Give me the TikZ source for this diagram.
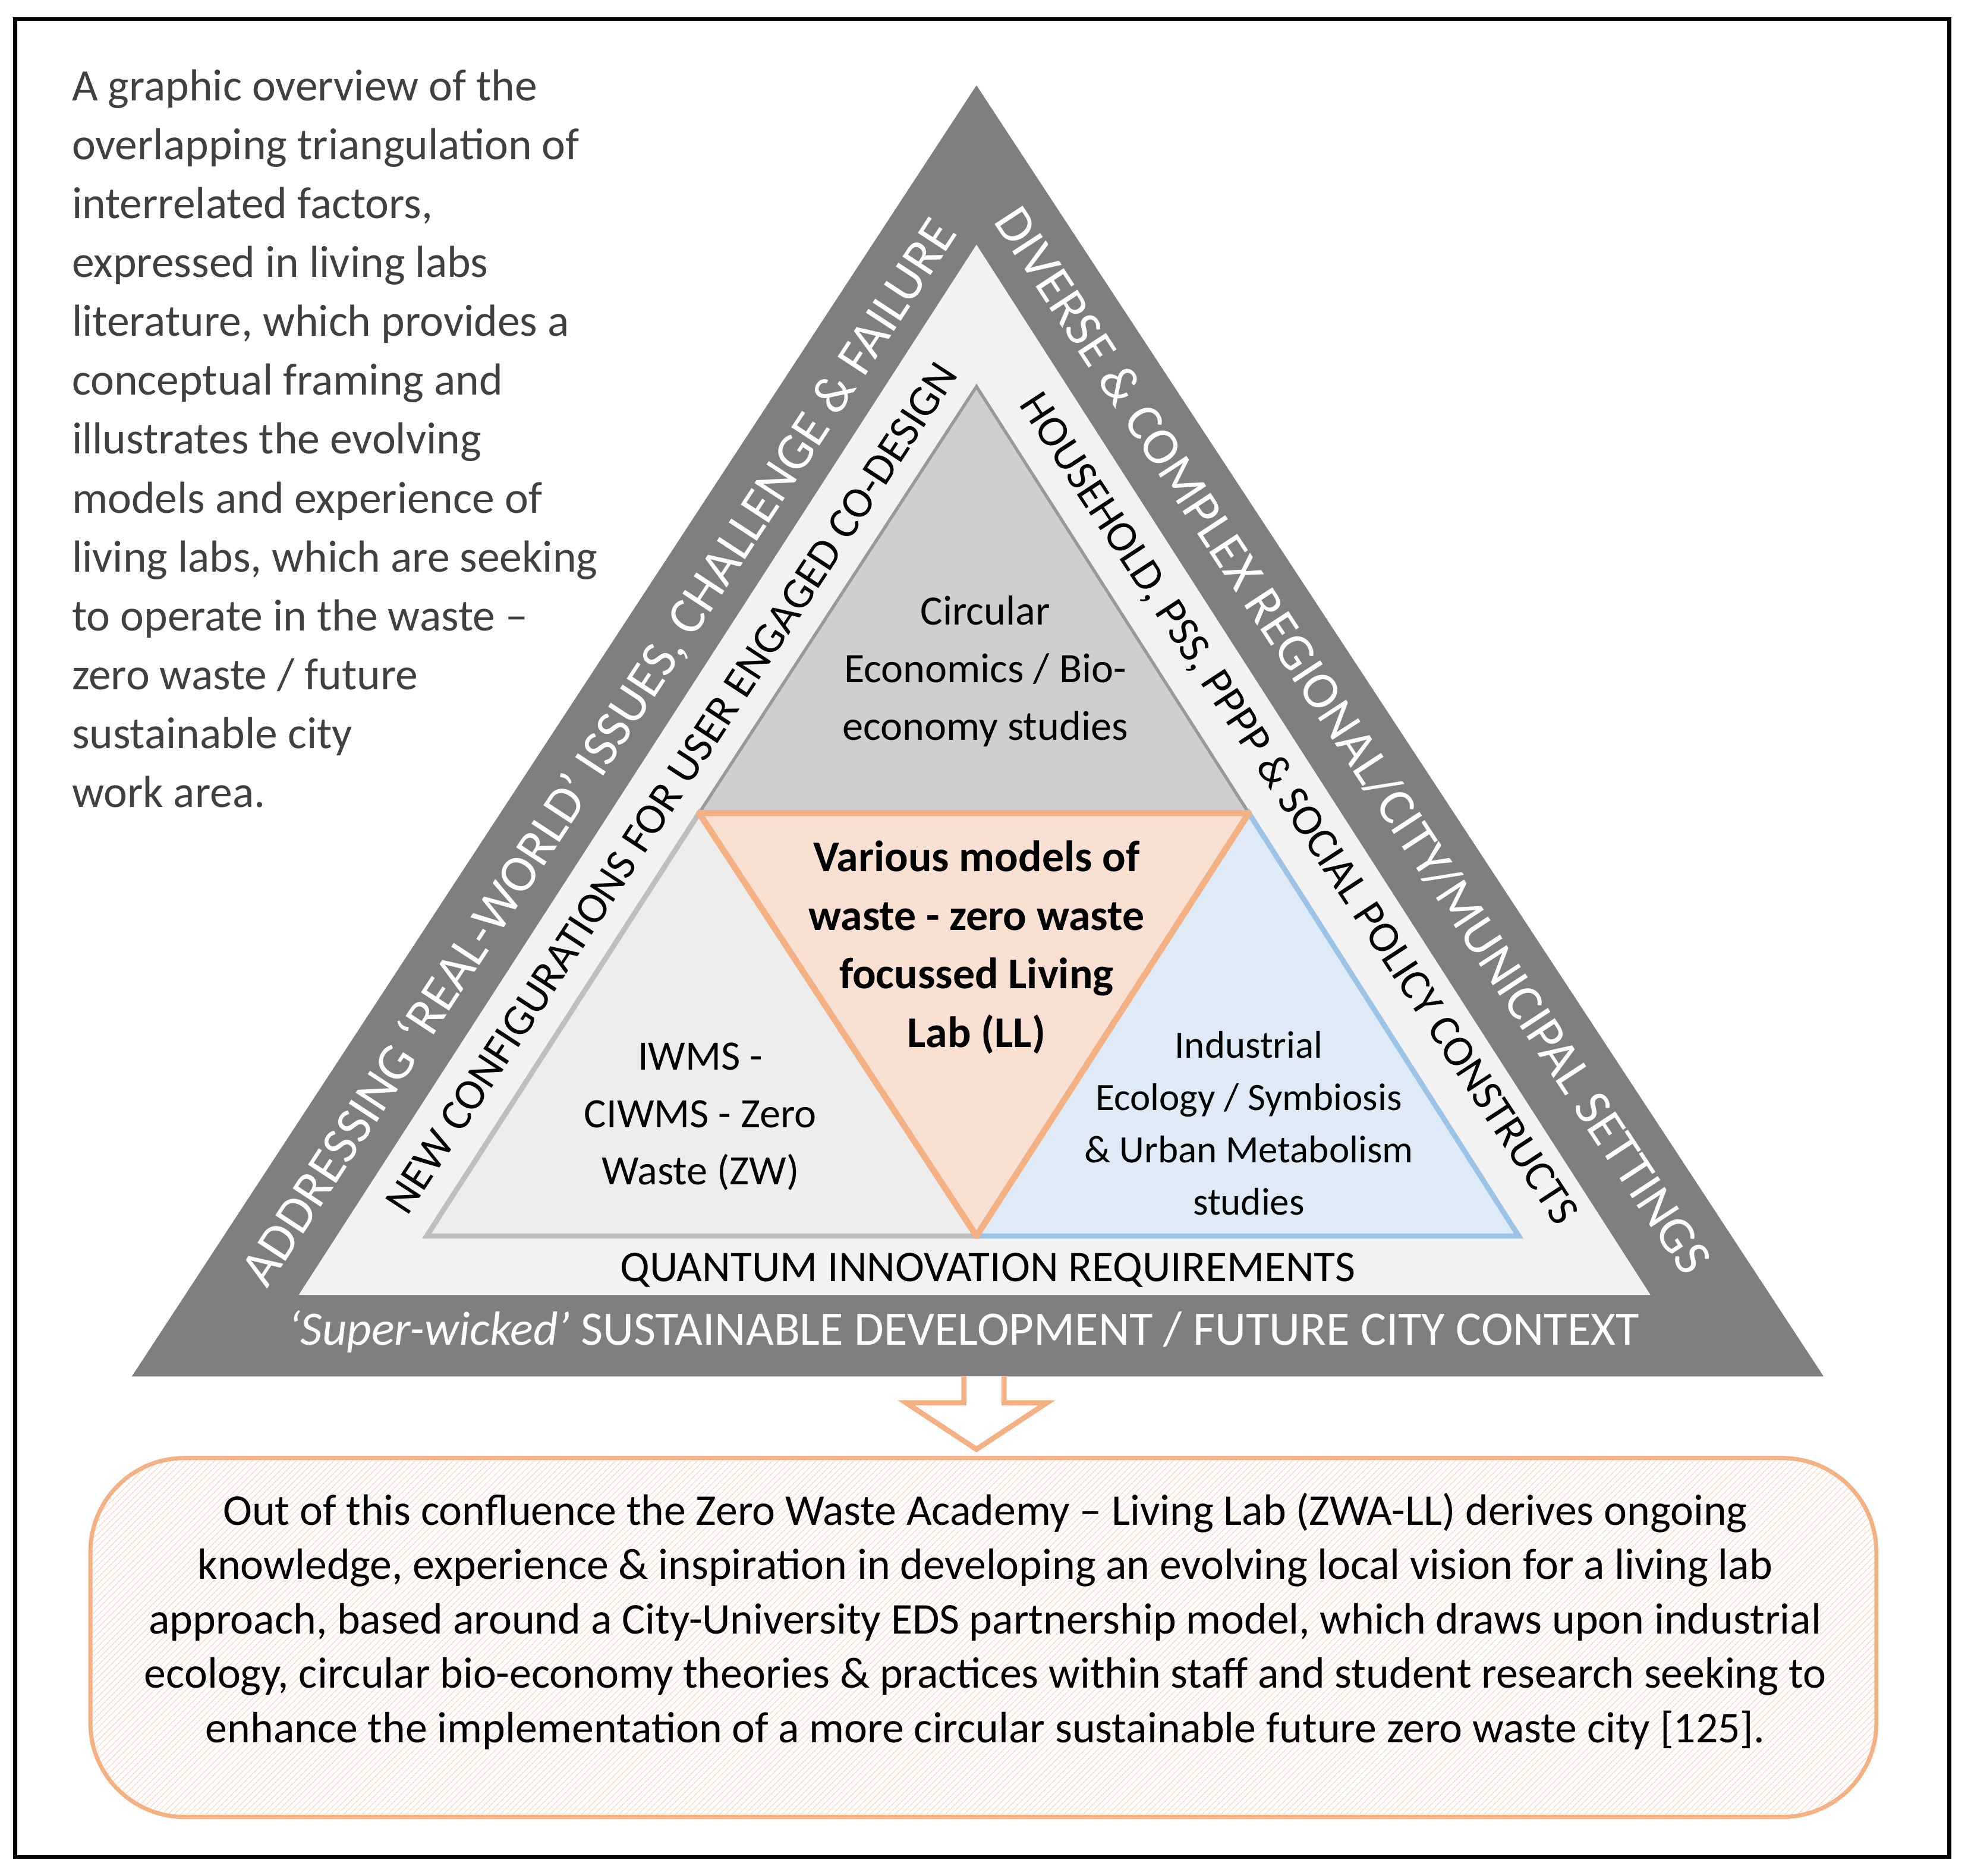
\documentclass[tikz,border=0pt]{standalone}
\usepackage{fontspec}
\setmainfont{Carlito}
\usetikzlibrary{patterns}
\definecolor{dg}{HTML}{7F7F7F}
\definecolor{lg}{HTML}{F2F2F2}
\definecolor{tg}{HTML}{D0CECE}
\definecolor{lgg}{HTML}{EDEDED}
\definecolor{bl}{HTML}{DEEBF7}
\definecolor{blo}{HTML}{9DC3E6}
\definecolor{pe}{HTML}{F8E0D3}
\definecolor{or}{HTML}{F4B183}
\definecolor{tx}{HTML}{404040}
\tikzset{
 edgeW/.style={text=white,font=\fontsize{25}{30}\selectfont},
 edgeB/.style={text=black,font=\fontsize{21}{25}\selectfont},
 body/.style={font=\fontsize{22}{27}\selectfont,align=center,text=black},
}
\begin{document}
\begin{tikzpicture}[x=0.02112cm,y=-0.02112cm]
\useasboundingbox (0,0) rectangle (1568,1495);
\draw[line width=1.8pt] (12,15) rectangle (1553,1480);
% triangles
\fill[dg] (778,68) -- (105,1097) -- (1453,1097) -- cycle;
\fill[lg] (778,195) -- (238,1032) -- (1315,1032) -- cycle;
\fill[tg,draw=gray!80,line width=1.5pt] (778,308) -- (557,648) -- (995,648) -- cycle;
\filldraw[fill=lgg,draw=gray!50,line width=2.5pt] (557,648) -- (340,985) -- (778,985) -- cycle;
\filldraw[fill=bl,draw=blo,line width=2.5pt] (995,648) -- (1210,985) -- (778,985) -- cycle;
\filldraw[fill=pe,draw=or,line width=3pt,line join=round] (557,648) -- (995,648) -- (778,985) -- cycle;
% edge labels
\node[edgeW,rotate=56.8] (ol) at (478,600) {ADDRESSING ‘REAL-WORLD’ ISSUES, CHALLENGE \& FAILURE};
\node[edgeW,rotate=-56.8] (or) at (1078,590) {DIVERSE \& COMPLEX REGIONAL/CITY/MUNICIPAL SETTINGS};
\node[edgeB,rotate=56.8] (il) at (535,628) {NEW CONFIGURATIONS FOR USER ENGAGED CO-DESIGN};
\node[edgeB,rotate=-56.8] (ir) at (1034,645) {HOUSEHOLD, PSS, PPPP \& SOCIAL POLICY CONSTRUCTS};
\node[edgeB] (q) at (787,1012) {QUANTUM INNOVATION REQUIREMENTS};
\node[text=white,font=\fontsize{23}{28}\selectfont] (sw) at (768,1061) {\textit{‘Super-wicked’} SUSTAINABLE DEVELOPMENT / FUTURE CITY CONTEXT};
% inner texts
\node[body,font=\fontsize{20}{27.5}\selectfont] (ce) at (785,535) {Circular\\Economics / Bio-\\economy studies};
\node[body,font=\fontsize{20}{27.5}\selectfont] (iw) at (558,890) {IWMS -\\CIWMS - Zero\\Waste (ZW)};
\node[body,font=\fontsize{18.5}{25}\selectfont] (ie) at (995,895) {Industrial\\Ecology / Symbiosis\\\& Urban Metabolism\\studies};
\node[body,font=\bfseries\fontsize{21}{28}\selectfont] (vm) at (778,755) {Various models of\\waste - zero waste\\focussed Living\\Lab (LL)};
% top-left text
\node[anchor=north west,align=left,text=tx,font=\fontsize{21.5}{28.2}\selectfont,inner sep=0pt] (intro) at (57,55) {A graphic overview of the\\overlapping triangulation of\\interrelated factors,\\expressed in living labs\\literature, which provides a\\conceptual framing and\\illustrates the evolving\\models and experience of\\living labs, which are seeking\\to operate in the waste –\\zero waste / future\\sustainable city\\work area.};
% arrow
\draw[or,line width=2.5pt,fill=white,line join=miter] (768,1097) -- (768,1118) -- (722,1118) -- (778,1155) -- (834,1118) -- (800,1118) -- (800,1097);
% bottom box
\draw[or,line width=2pt,rounded corners=45pt,pattern=north east lines,pattern color=or!45] (72,1162) rectangle (1495,1448);
\node[body,font=\fontsize{21}{26}\selectfont] (bt) at (785,1292) {Out of this confluence the Zero Waste Academy – Living Lab (ZWA-LL) derives ongoing\\knowledge, experience \& inspiration in developing an evolving local vision for a living lab\\approach, based around a City-University EDS partnership model, which draws upon industrial\\ecology, circular bio-economy theories \& practices within staff and student research seeking to\\enhance the implementation of a more circular sustainable future zero waste city [125].};
\end{tikzpicture}
\end{document}
